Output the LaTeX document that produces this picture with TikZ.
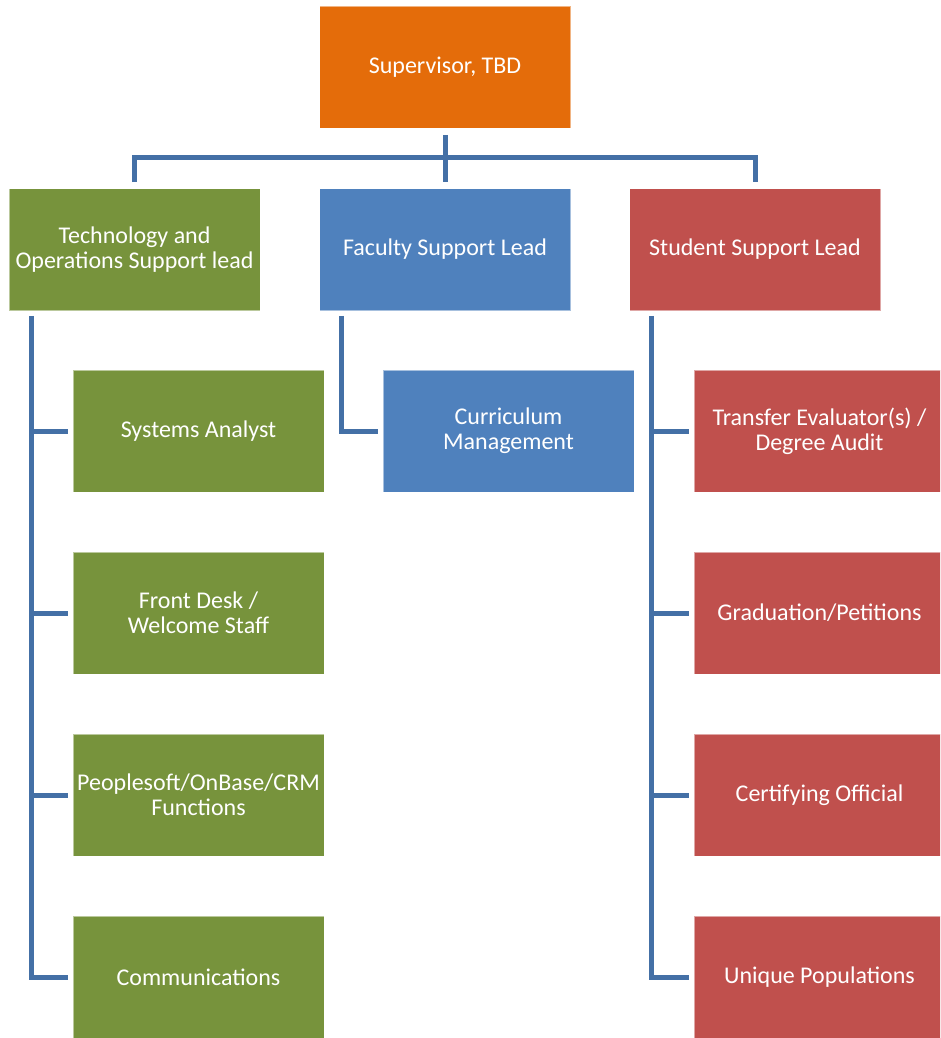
\documentclass[tikz,border=0pt]{standalone}
\usepackage{fontspec}
\setmainfont{Carlito}
\usetikzlibrary{calc}
\definecolor{orgorange}{HTML}{E46C0A}
\definecolor{orggreen}{HTML}{77933C}
\definecolor{orgblue}{HTML}{4F81BD}
\definecolor{orgred}{HTML}{C0504D}
\definecolor{linkblue}{HTML}{4470A6}
\begin{document}
\begin{tikzpicture}[x=0.75pt,y=-0.75pt,
  box/.style={rectangle,minimum width=188.25pt,minimum height=91.5pt,inner sep=0pt,
    draw=white,draw opacity=0.5,line width=0.4pt,text=white,align=center,
    font=\fontsize{18pt}{18.75pt}\selectfont},
  topbox/.style={box,fill=orgorange},
  greenbox/.style={box,fill=orggreen},
  bluebox/.style={box,fill=orgblue},
  redbox/.style={box,fill=orgred},
  conn/.style={draw=linkblue,line width=3.75pt}]
\useasboundingbox (0,0) rectangle (940,1038);
\clip (0,0) rectangle (940,1038);

% top of the chart
\node[topbox] (sup) at (445,67.5) {Supervisor, TBD};

% leads
\node[greenbox] (tech) at (134.5,249.5) {Technology and\\Operations Support lead};
\node[bluebox]  (fac)  at (445,249.5)   {Faculty Support Lead};
\node[redbox]   (stu)  at (755,249.5)   {Student Support Lead};

% technology and operations staff
\node[greenbox] (sa)   at (198.5,431) {Systems Analyst};
\node[greenbox] (fd)   at (198.5,613) {Front Desk /\\Welcome Staff};
\node[greenbox] (ps)   at (198.5,795) {Peoplesoft/OnBase/CRM\\Functions};
\node[greenbox] (comm) at (198.5,977) {Communications};

% faculty support staff
\node[bluebox] (cm) at (508.5,431) {Curriculum\\Management};

% student support staff
\node[redbox] (te)  at (819.5,431) {Transfer Evaluator(s) /\\Degree Audit};
\node[redbox] (gp)  at (819.5,613) {Graduation/Petitions};
\node[redbox] (co)  at (819.5,795) {Certifying Official};
\node[redbox] (up)  at (819.5,977) {Unique Populations};

% supervisor to leads
\draw[conn] ($(sup.south)+(0,6)$) -- ($(fac.north)-(0,6)$);
\draw[conn] ($(tech.north)-(0,6)$) |- ($(sup.south)+(0,29)$) -| ($(stu.north)-(0,6)$);

% technology lead to staff
\draw[conn] ($(tech.south west)+(23,5)$) |- ($(comm.west)-(5,0)$);
\foreach \n in {sa,fd,ps}
  \draw[conn] ($(\n.west)-(5,0)$) -- ($(\n.west)-(43,0)$);

% faculty lead to staff
\draw[conn] ($(fac.south west)+(22,5)$) |- ($(cm.west)-(5,0)$);

% student lead to staff
\draw[conn] ($(stu.south west)+(22,5)$) |- ($(up.west)-(5,0)$);
\foreach \n in {te,gp,co}
  \draw[conn] ($(\n.west)-(5,0)$) -- ($(\n.west)-(44,0)$);
\end{tikzpicture}
\end{document}
